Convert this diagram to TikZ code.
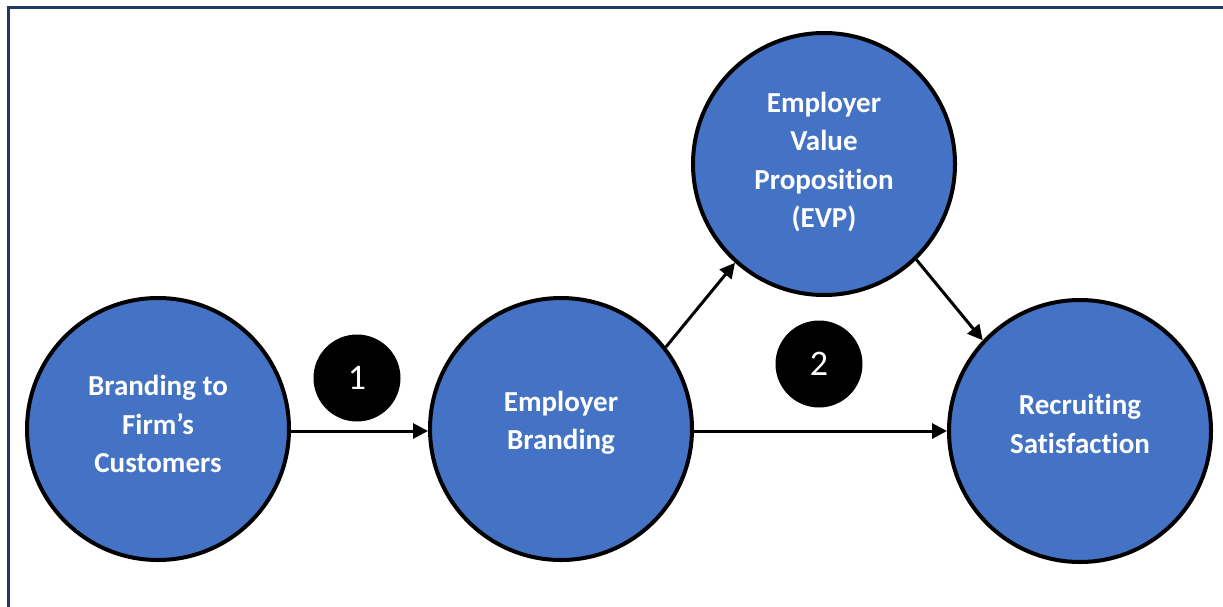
\documentclass[tikz,border=0pt]{standalone}
\usepackage{fontspec}
\newfontfamily\calfont[Ligatures=NoCommon]{Carlito}
\usetikzlibrary{arrows.meta}
\definecolor{bubblefill}{HTML}{4472C4}
\definecolor{framecol}{HTML}{1F3864}
\begin{document}
\begin{tikzpicture}[x=1pt,y=-1pt,
  bubble/.style={circle,draw=black,line width=4pt,fill=bubblefill,minimum size=262pt,inner sep=0pt},
  txt/.style={align=center,text=white,font=\calfont\bfseries\fontsize{29}{38.5}\selectfont},
  numc/.style={circle,fill=black,minimum size=87pt,inner sep=0pt,text=white,font=\calfont\fontsize{36}{40}\selectfont},
  conn/.style={line width=3pt,-{Triangle[length=15pt,width=15pt]}}]
\useasboundingbox (0,0) rectangle (1223,606);
\fill[white] (0,0) rectangle (1223,606);
\draw[framecol,line width=2.6pt] (8.5,610) -- (8.5,7.3) -- (1230,7.3);
\node[bubble] (L) at (158,429) {};
\node[bubble] (M) at (561,429) {};
\node[bubble] (E) at (824,164) {};
\node[bubble] (R) at (1080,431) {};
\node[txt] (Lt) at (158,424) {Branding to\\Firm’s\\Customers};
\node[txt] (Mt) at (561,423) {Employer\\Branding};
\node[txt] (Et) at (824,162) {Employer\\Value\\Proposition\\(EVP)};
\node[txt] (Rt) at (1080,424) {Recruiting\\Satisfaction};
\node[numc] (n1) at (357,378) {1};
\node[numc] (n2) at (819,364) {2};
\draw[conn] ([yshift=-2pt]L.east) -- ([yshift=-2pt]M.west);
\draw[conn] ([yshift=-2pt]M.east) -- (R.west);
\draw[conn] (M.38) -- (E.228);
\draw[conn] (E.-46) -- (R.137);
\end{tikzpicture}
\end{document}
